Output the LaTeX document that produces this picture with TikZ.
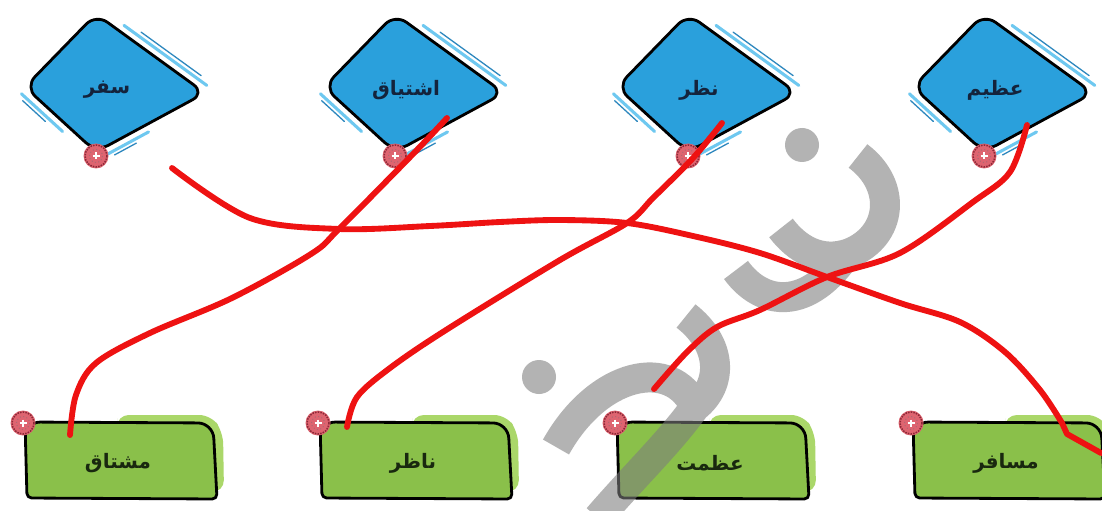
\documentclass[tikz,border=0pt]{standalone}
\usepackage{fontspec}
\newfontfamily\arabicfont[Script=Arabic]{DejaVu Sans}
\TeXXeTstate=1
\usetikzlibrary{calc}
\definecolor{dblue}{RGB}{42,160,220}
\definecolor{lblue}{RGB}{110,200,240}
\definecolor{sblue}{RGB}{45,135,190}
\definecolor{mgreen}{RGB}{138,192,74}
\definecolor{lgreen}{RGB}{170,215,105}
\definecolor{wred}{RGB}{238,18,18}
\definecolor{dotred}{RGB}{222,100,112}
\definecolor{dotdark}{RGB}{140,40,55}
\definecolor{wmgray}{RGB}{125,125,125}
\definecolor{wmdark}{RGB}{140,140,140}
\definecolor{navy}{RGB}{20,35,60}
\definecolor{dgreentext}{RGB}{25,40,15}
\tikzset{
  outline/.style={draw=black, line width=2.4pt, line join=round},
  sketchA/.style={draw=lblue, line width=2.6pt, line cap=round},
  sketchB/.style={draw=sblue, line width=1.1pt, line cap=round},
  dtext/.style={font=\arabicfont\bfseries\fontsize{17}{20}\selectfont, text=navy, inner sep=0pt},
  gtext/.style={font=\arabicfont\bfseries\fontsize{17}{20}\selectfont, text=dgreentext, inner sep=0pt},
  link/.style={draw=wred, line width=5pt, line cap=round, line join=round},
}
\newcommand\reddot[2]{%
  \fill[dotred] (#2) circle (12.5);
  \draw[dotdark, densely dotted, line width=1.3pt] (#2) circle (11);
  \draw[dotdark!70, dotted, line width=0.9pt] (#2) circle (6.5);
  \draw[white, line width=1.8pt] ($(#2)+(-3.5,0)$) -- ($(#2)+(3.5,0)$);
  \draw[white, line width=1.8pt] ($(#2)+(0,-3.5)$) -- ($(#2)+(0,3.5)$);
  \coordinate (#1) at (#2);
}
\newcommand\bdiam[3]{%
  \coordinate (#1-T) at (#2,14);
  \coordinate (#1-L) at ($(#1-T)+(-71,73)$);
  \coordinate (#1-R) at ($(#1-T)+(109,79)$);
  \coordinate (#1-B) at ($(#1-T)+(0,138)$);
  \draw[sketchA] ($(#1-T)!0.22!(#1-R)+(4,-6)$) -- ($(#1-T)!0.98!(#1-R)+(4,-6)$);
  \draw[sketchB] ($(#1-T)!0.35!(#1-R)+(7,-9.5)$) -- ($(#1-T)!0.9!(#1-R)+(7,-9.5)$);
  \draw[sketchA] ($(#1-L)!0.02!(#1-B)+(-5,5.5)$) -- ($(#1-L)!0.6!(#1-B)+(-5,5.5)$);
  \draw[sketchB] ($(#1-L)!0.08!(#1-B)+(-8,8.5)$) -- ($(#1-L)!0.4!(#1-B)+(-8,8.5)$);
  \draw[sketchA] ($(#1-B)!0.08!(#1-R)+(3.5,6.5)$) -- ($(#1-B)!0.45!(#1-R)+(3.5,6.5)$);
  \draw[sketchB] ($(#1-B)!0.12!(#1-R)+(5.5,10)$) -- ($(#1-B)!0.32!(#1-R)+(5.5,10)$);
  \draw[outline, fill=dblue, rounded corners=12pt] (#1-T) -- (#1-R) -- (#1-B) -- (#1-L) -- cycle;
  \node[dtext] (#1) at ($(#1-T)+(11,76)$) {\beginR #3\endR};
  \reddot{#1-dot}{$(#1-B)+(0,4)$}
}
\newcommand\gbox[3]{%
  \fill[lgreen, rounded corners=10pt] (#2+92,415) -- (#2+186,415) -- (#2+198,432) -- (#2+199,492) -- (#2+150,492) -- (#2+92,430) -- cycle;
  \draw[outline, fill=mgreen] (#2,422) [rounded corners=4pt] -- (#2+2,498) -- (#2+192,499) [rounded corners=13pt] -- (#2+188,423) -- cycle;
  \node[gtext] (#1) at (#2+93,463) {\beginR #3\endR};
  \reddot{#1-dot}{#2-2,423}
}
\begin{document}
\begin{tikzpicture}[x=0.03cm, y=-0.03cm]
\useasboundingbox (0,0) rectangle (1102,511);
\fill[white] (0,0) rectangle (1102,511);
% top diamonds
\bdiam{safar}{96}{سفر}
\bdiam{eshtiyagh}{395}{اشتیاق}
\bdiam{nazar}{688}{نظر}
\bdiam{azim}{984}{عظیم}
% bottom boxes
\gbox{moshtagh}{25}{مشتاق}
\gbox{nazer}{320}{ناظر}
\gbox{azemat}{617}{عظمت}
\gbox{mosafer}{913}{مسافر}
% watermark
\draw[wmgray, opacity=0.58, line width=0.9cm, line cap=butt, line join=round]
  (858,156) .. controls (898,186) and (892,236) .. (850,253) .. controls (820,264) and (796,248) .. (781,228)
  (736,270) .. controls (762,306) and (808,312) .. (848,252)
  (686,316) .. controls (722,344) and (724,384) .. (695,407)
  (556,447) .. controls (598,372) and (672,356) .. (695,407) .. controls (668,444) and (636,474) .. (598,518);
\fill[wmgray, opacity=0.58] (802,145) circle (17);
\fill[wmgray, opacity=0.58] (539,377) circle (17);
% connector end points
\coordinate (l1a) at (172,168);
\coordinate (l1b) at (1101,453);
\coordinate (l2a) at (447,118);
\coordinate (l2b) at (70,435);
\coordinate (l3a) at (722,123);
\coordinate (l3b) at (347,427);
\coordinate (l4a) at (1027,125);
\coordinate (l4b) at (654,389);
% red links
\draw[link] plot[smooth, tension=0.55] coordinates {(l1a) (250,218) (339,229) (430,226) (500,222) (560,220) (627,223) (693,236) (760,253) (827,277) (900,303) (960,322) (1005,352) (1040,390) (1062,423)} -- (1067,434) -- (l1b);
\draw[link] plot[smooth, tension=0.55] coordinates {(l2a) (414,153) (339,229) (311,254) (232,298) (150,333) (96,363) (76,395) (l2b)};
\draw[link] plot[smooth, tension=0.55] coordinates {(l3a) (693,158) (653,198) (627,223) (560,260) (446,330) (390,368) (357,397) (l3b)};
\draw[link] plot[smooth, tension=0.55] coordinates {(l4a) (1010,172) (973,202) (900,253) (827,277) (760,310) (717,327) (687,352) (l4b)};
\end{tikzpicture}
\end{document}
